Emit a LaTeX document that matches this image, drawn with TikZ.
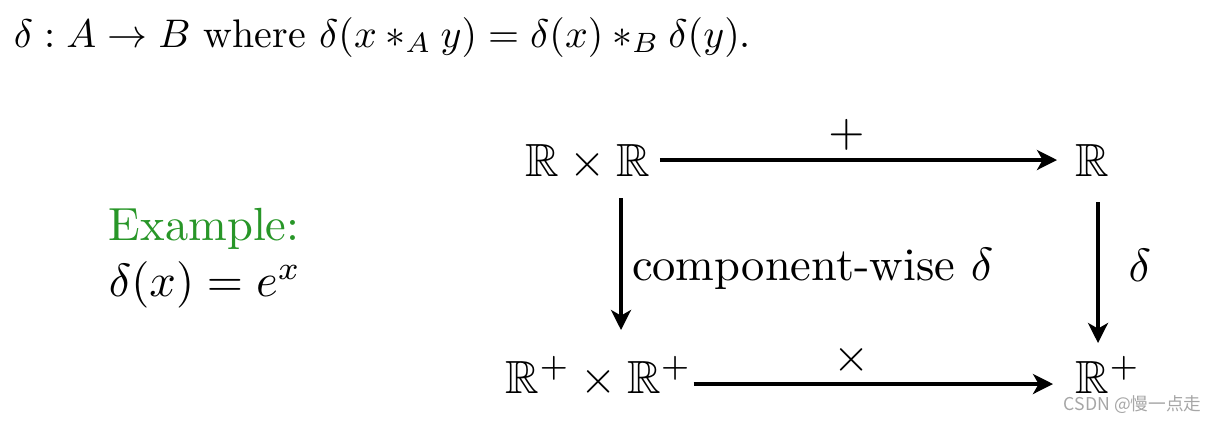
\documentclass[tikz,border=0pt]{standalone}
\usepackage{amssymb}
\usepackage{fontspec}
\newfontfamily\cjkwm{Noto Sans CJK SC}
\usetikzlibrary{arrows.meta,calc}
\definecolor{exgreen}{RGB}{40,150,40}
\begin{document}
\begin{tikzpicture}[x=0.215pt,y=-0.215pt,
  mathnode/.style={inner sep=0pt, anchor=base west},
  arr/.style={line width=0.75pt, -{Stealth[length=4.3pt,width=4.3pt,inset=1.2pt]}},
  lbl/.style={inner sep=0pt}]
\useasboundingbox (0,0) rectangle (1212,422);
\node[mathnode, scale=0.858, transform shape] (def) at (13,47) {$\delta : A \to B$ where $\delta(x *_A y) = \delta(x) *_B \delta(y)$.};
\node[mathnode, text=exgreen] (ex) at (108,240) {Example:};
\node[mathnode] (exf) at (108,296) {$\delta(x) = e^x$};
\node[mathnode] (rr) at (525,176) {$\mathbb{R}\times\mathbb{R}$};
\node[mathnode] (r) at (1075,176) {$\mathbb{R}$};
\node[mathnode] (pp) at (505,393) {$\mathbb{R}^+\times\mathbb{R}^+$};
\node[mathnode] (p) at (1075,393) {$\mathbb{R}^+$};
\draw[arr] ([shift={(9,-16)}]rr.base east) -- node[lbl, pos=0.47, yshift=5.4pt]{$+$} ([shift={(-18,-16)}]r.base west);
\draw[arr] ([shift={(1,-9)}]pp.base east) -- node[lbl, pos=0.44, yshift=5.2pt]{$\times$} ([shift={(-22,-9)}]p.base west);
\draw[arr] ([shift={(96,22)}]rr.base west) -- node[lbl, pos=0.54, anchor=west, xshift=2pt]{component-wise $\delta$} ([shift={(116,-63)}]pp.base west);
\draw[arr] ([shift={(23,26)}]r.base west) -- node[lbl, pos=0.45, anchor=west, xshift=6.2pt]{$\delta$} ([shift={(23,-50)}]p.base west);
\node[inner sep=0pt, anchor=base west, text=gray!70, font=\cjkwm\fontsize{3.8}{4}\selectfont] (wm) at (1063,410) {CSDN @慢一点走};
\end{tikzpicture}
\end{document}
